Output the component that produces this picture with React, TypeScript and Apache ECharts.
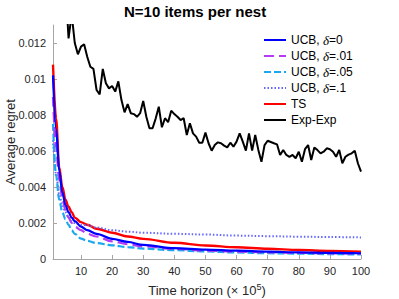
import React, { useEffect, useRef } from "react";
import * as echarts from "echarts";

// Sample positions (time horizon, ×10^5) for the smooth curves
const curveX = [1, 2, 3, 4, 5, 6, 7, 8, 10, 12, 15, 20, 25, 30, 40, 50, 60, 70, 80, 90, 100];
const ucb0 = [0.0102, 0.0072, 0.0049, 0.0037, 0.003, 0.0026, 0.0023, 0.0021, 0.0018, 0.0016, 0.0014, 0.00112, 0.00095, 0.00078, 0.0006, 0.00052, 0.00046, 0.00041, 0.00037, 0.00034, 0.00032];
const ucb01 = [0.009, 0.0062, 0.0044, 0.0034, 0.0027, 0.0023, 0.002, 0.0018, 0.0016, 0.0014, 0.00125, 0.00098, 0.00082, 0.0007, 0.00056, 0.00047, 0.00041, 0.00037, 0.00034, 0.00031, 0.0003];
const ucb05 = [0.0075, 0.0046, 0.0033, 0.0026, 0.0022, 0.0019, 0.0016, 0.0014, 0.00113, 0.00101, 0.00088, 0.00076, 0.00066, 0.00058, 0.00049, 0.00042, 0.00036, 0.00032, 0.0003, 0.00027, 0.00025];
const ucb1 = [0.0066, 0.0047, 0.0036, 0.003, 0.0026, 0.0023, 0.0021, 0.002, 0.0019, 0.00188, 0.00175, 0.0016, 0.00152, 0.00146, 0.0014, 0.00136, 0.0013, 0.00127, 0.00124, 0.00122, 0.0012];
const ts = [0.0108, 0.0078, 0.0051, 0.004, 0.0033, 0.0029, 0.0026, 0.0023, 0.00205, 0.0019, 0.00168, 0.00146, 0.00125, 0.00112, 0.0009, 0.00075, 0.00065, 0.00057, 0.0005, 0.00045, 0.00041];

// Exp-Exp, one value per time horizon 1..100
const expExp = [
  0.03, 0.024, 0.02, 0.017, 0.0152, 0.01226, 0.0136, 0.012, 0.01137, 0.0118,
  0.01193, 0.01124, 0.01068, 0.01056, 0.00939, 0.00915, 0.01056, 0.00976, 0.00948, 0.00961,
  0.0093, 0.00987, 0.00883, 0.00815, 0.0086, 0.0081, 0.00805, 0.0079, 0.0081, 0.00878,
  0.0079, 0.00726, 0.00726, 0.0078, 0.00846, 0.00732, 0.00782, 0.0076, 0.00824, 0.00805,
  0.0079, 0.00772, 0.00782, 0.00689, 0.00754, 0.00698, 0.0068, 0.00646, 0.00646, 0.00702,
  0.00643, 0.00602, 0.00633, 0.00648, 0.00643, 0.0063, 0.0062, 0.00646, 0.00624, 0.00652,
  0.00698, 0.00652, 0.00602, 0.00698, 0.00602, 0.00689, 0.00606, 0.0054, 0.00633, 0.00657,
  0.0065, 0.00643, 0.00637, 0.00578, 0.00606, 0.00578, 0.00568, 0.00578, 0.0056, 0.00596,
  0.0054, 0.0061, 0.00633, 0.0055, 0.0062, 0.00605, 0.00587, 0.00596, 0.00615, 0.0061,
  0.00596, 0.00568, 0.00606, 0.00532, 0.00568, 0.0058, 0.00587, 0.00602, 0.00532, 0.00485,
];

const xTicks = [10, 20, 30, 40, 50, 60, 70, 80, 90, 100];
const yTicks = [0, 0.002, 0.004, 0.006, 0.008, 0.01, 0.012];

const FONT = "Liberation Sans, Arial, Helvetica, sans-serif";

export default function App() {
  const ref = useRef<HTMLDivElement>(null);
  useEffect(() => {
    if (!ref.current) return;
    const chart = echarts.init(ref.current, null, { renderer: "svg" });
    const pair = (ys: number[]) => curveX.map((x, i) => [x, ys[i]]);
    const mk = (name: string, data: number[][], color: string, type: any, width: number, smooth: boolean) => ({
      name,
      type: "line",
      data,
      smooth: smooth ? 0.35 : false,
      smoothMonotone: "x",
      symbol: "none",
      showSymbol: false,
      clip: true,
      lineStyle: { color, width, type },
      itemStyle: { color },
    });
    chart.setOption({
      animation: false,
      backgroundColor: "#ffffff",
      textStyle: { fontFamily: FONT },
      title: {
        text: "N=10 items per nest",
        left: 124,
        top: 4,
        padding: 0,
        textStyle: { fontFamily: FONT, fontSize: 15, fontWeight: "bold", color: "#000" },
      },
      grid: { left: 53, right: 38, top: 25, bottom: 40, containLabel: false, outerBoundsMode: "none" },
      legend: {
        orient: "vertical",
        left: 263,
        top: 33,
        padding: 0,
        itemGap: 2,
        itemWidth: 22,
        itemHeight: 12,
        itemStyle: { opacity: 0 },
        textStyle: {
          fontFamily: FONT,
          fontSize: 12,
          color: "#000",
          lineHeight: 14,
          rich: {
            a: { fontFamily: FONT, fontSize: 12, color: "#000", lineHeight: 14 },
            d: { fontFamily: "Liberation Serif, Times New Roman, serif", fontStyle: "italic", fontSize: 13, color: "#000", lineHeight: 14 },
          },
        },
        formatter: (name: string) => {
          if (name.startsWith("UCB")) {
            const rest = name.split("δ")[1];
            return "{a|UCB, }{d|δ}{a|" + rest + "}";
          }
          return "{a|" + name + "}";
        },
        data: ["UCB, δ=0", "UCB, δ=.01", "UCB, δ=.05", "UCB, δ=.1", "TS", "Exp-Exp"],
      },
      xAxis: {
        type: "value",
        min: 1,
        max: 100,
        name: "{n|Time horizon (× 10}{s|5}{n|)}",
        nameLocation: "middle",
        nameGap: 23,
        nameMoveOverlap: false,
        nameTextStyle: {
          rich: {
            n: { fontFamily: FONT, fontSize: 13, color: "#262626", lineHeight: 16 },
            s: { fontFamily: FONT, fontSize: 9, color: "#262626", verticalAlign: "top", lineHeight: 16, padding: [0, 0, 8, 0] },
          },
        },
        axisLine: { show: true, lineStyle: { color: "#a6a6a6", width: 1 } },
        axisTick: { show: true, inside: true, length: 4, customValues: xTicks, lineStyle: { color: "#a6a6a6" } },
        axisLabel: { customValues: xTicks, margin: 6, fontFamily: FONT, fontSize: 11, color: "#262626" },
        splitLine: { show: false },
      },
      yAxis: {
        type: "value",
        min: 0,
        max: 0.013,
        name: "Average regret",
        nameLocation: "middle",
        nameGap: 36,
        nameMoveOverlap: false,
        nameTextStyle: { fontFamily: FONT, fontSize: 13, color: "#262626" },
        axisLine: { show: true, lineStyle: { color: "#a6a6a6", width: 1 } },
        axisTick: { show: true, inside: true, length: 4, customValues: yTicks, lineStyle: { color: "#a6a6a6" } },
        axisLabel: { customValues: yTicks, margin: 7, fontFamily: FONT, fontSize: 11, color: "#262626" },
        splitLine: { show: false },
      },
      series: [
        mk("Exp-Exp", expExp.map((v, i) => [i + 1, v]), "#000000", "solid", 2, false),
        mk("TS", pair(ts), "#ff0000", "solid", 2.4, true),
        mk("UCB, δ=.1", pair(ucb1), "#6666ff", [1.5, 2], 2, true),
        mk("UCB, δ=.05", pair(ucb05), "#1aa8f0", [7, 3], 2.2, true),
        mk("UCB, δ=.01", pair(ucb01), "#b43cf5", [10, 5], 2.2, true),
        mk("UCB, δ=0", pair(ucb0), "#0000ff", "solid", 2.2, true),
      ],
    });
    return () => chart.dispose();
  }, []);
  return <div ref={ref} style={{ width: 399, height: 299, position: "absolute", left: 0, top: 0 }} />;
}
